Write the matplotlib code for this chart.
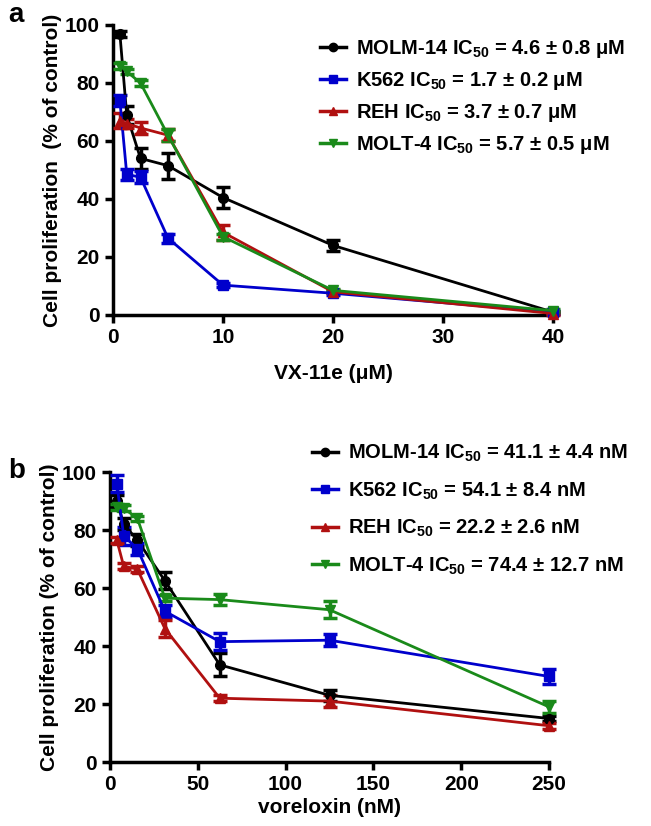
import matplotlib
matplotlib.use("Agg")
import matplotlib.pyplot as plt
from matplotlib.lines import Line2D

plt.rcParams['font.family'] = ['Liberation Sans', 'DejaVu Sans']
plt.rcParams['font.weight'] = 'bold'
plt.rcParams['mathtext.fontset'] = 'custom'
plt.rcParams['mathtext.rm'] = 'Liberation Sans:bold'
plt.rcParams['mathtext.bf'] = 'Liberation Sans:bold'
plt.rcParams['mathtext.default'] = 'bf'

# panel a: VX-11e (uM)
conc_a = [0.625, 1.25, 2.5, 5, 10, 20, 40]
molm14_a = [97, 69, 54, 51.5, 40.5, 24, 1]
molm14_a_err = [1, 3, 3.5, 4.5, 3.5, 2, 0.5]
k562_a = [74, 48.5, 47.5, 26.5, 10.3, 7.5, 1]
k562_a_err = [2, 2, 2, 1.5, 0.8, 0.5, 0.5]
reh_a = [67, 66, 64.5, 62, 28.5, 8, 0.5]
reh_a_err = [2.5, 1.5, 2, 2, 2.5, 0.5, 0.5]
molt4_a = [86, 84, 80, 62, 27, 8.5, 1.5]
molt4_a_err = [1, 1, 1, 2, 1, 0.5, 0.5]

# panel b: voreloxin (nM)
conc_b = [3.9, 7.8, 15.6, 31.25, 62.5, 125, 250]
molm14_b = [90, 82, 76.5, 62.5, 33.5, 23, 15]
molm14_b_err = [2, 2, 2, 3, 4, 2, 1]
k562_b = [96, 78, 73.5, 52, 41.5, 42, 29.5]
k562_b_err = [3, 3, 2, 2, 3, 2, 2.5]
reh_b = [76.5, 67.5, 66.5, 46, 22, 21, 12.5]
reh_b_err = [1, 1, 1, 3, 1, 2, 1]
molt4_b = [88, 87.5, 84, 56.5, 56, 52.5, 19]
molt4_b_err = [1, 1, 1, 1, 2, 3, 2]

labels_a = [r'MOLM-14 IC$_{50}$ = 4.6 ± 0.8 μM',
            r'K562 IC$_{50}$ = 1.7 ± 0.2 μM',
            r'REH IC$_{50}$ = 3.7 ± 0.7 μM',
            r'MOLT-4 IC$_{50}$ = 5.7 ± 0.5 μM']
labels_b = [r'MOLM-14 IC$_{50}$ = 41.1 ± 4.4 nM',
            r'K562 IC$_{50}$ = 54.1 ± 8.4 nM',
            r'REH IC$_{50}$ = 22.2 ± 2.6 nM',
            r'MOLT-4 IC$_{50}$ = 74.4 ± 12.7 nM']

colors = ['#000000', '#0000cc', '#b01010', '#1a8a1a']
markers = ['o', 's', '^', 'v']

fig = plt.figure(figsize=(6.51, 8.26), dpi=100)
W, H = 651, 826
ax_a = fig.add_axes([113 / W, 1 - 315 / H, 440 / W, 290 / H])
ax_b = fig.add_axes([110 / W, 1 - 762 / H, 439 / W, 290 / H])


def draw(ax, x, series, errs, labels, xmax, xticks, xlabel, ylabel,
         legpos, spacing, pad):
    handles = []
    for y, e, c, m, lab in zip(series, errs, colors, markers, labels):
        ax.errorbar(x, y, yerr=e, color=c, marker=m, markersize=7, lw=2,
                    capsize=5, capthick=2.5, elinewidth=2.5,
                    clip_on=False, zorder=3)
        handles.append(Line2D([], [], color=c, marker=m, markersize=6,
                              lw=2.5, label=lab))
    ax.set_xlim(0, xmax)
    ax.set_ylim(0, 100)
    ax.set_xticks(xticks)
    ax.set_yticks([0, 20, 40, 60, 80, 100])
    for s in ['top', 'right']:
        ax.spines[s].set_visible(False)
    for s in ['left', 'bottom']:
        ax.spines[s].set_linewidth(2.5)
    ax.tick_params(width=2.5, length=6, labelsize=15, direction='out')
    for t in ax.get_xticklabels() + ax.get_yticklabels():
        t.set_fontweight('bold')
    ax.set_xlabel(xlabel, fontsize=15, fontweight='bold', labelpad=pad)
    ax.set_ylabel(ylabel, fontsize=15, fontweight='bold', labelpad=2)
    leg = ax.legend(handles=handles, loc='upper left', bbox_to_anchor=legpos,
                    frameon=False, fontsize=14.5, handlelength=1.3,
                    handletextpad=0.5, labelspacing=spacing, borderaxespad=0)
    for t in leg.get_texts():
        t.set_fontweight('bold')


draw(ax_a, conc_a, [molm14_a, k562_a, reh_a, molt4_a],
     [molm14_a_err, k562_a_err, reh_a_err, molt4_a_err], labels_a,
     40, [0, 10, 20, 30, 40], 'VX-11e (μM)', 'Cell proliferation  (% of control)',
     ((312 - 113) / 440, 1 - (30 - 25) / 290), 0.5, 12)
draw(ax_b, conc_b, [molm14_b, k562_b, reh_b, molt4_b],
     [molm14_b_err, k562_b_err, reh_b_err, molt4_b_err], labels_b,
     250, [0, 50, 100, 150, 200, 250], 'voreloxin (nM)', 'Cell proliferation (% of control)',
     ((304 - 110) / 439, 1 + (472 - 435) / 290), 0.8, 3)

fig.text(8 / W, 1 - 22 / H, 'a', fontsize=20, fontweight='bold')
fig.text(8 / W, 1 - 478 / H, 'b', fontsize=20, fontweight='bold')

fig.savefig('out.png', dpi=100)
